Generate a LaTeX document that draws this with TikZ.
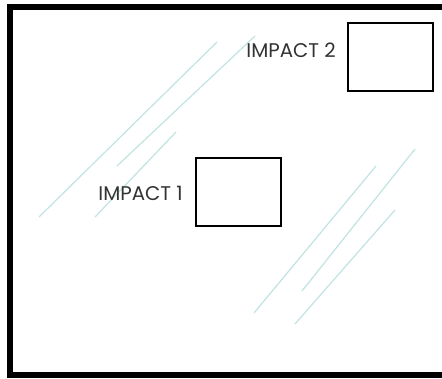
\documentclass[tikz,border=0pt]{standalone}
\usepackage{fontspec}
\setmainfont{Poppins}
\definecolor{streak}{HTML}{BFE4E1}
\definecolor{txt}{HTML}{333333}
\tikzset{
  impactbox/.style={draw=black, line width=1.6pt, fill=white},
  streakline/.style={draw=streak, line width=1.2pt},
  impactlabel/.style={text=txt, font=\fontsize{19.8}{20}\selectfont, inner sep=0pt, anchor=base east}
}
\begin{document}
\begin{tikzpicture}[x=1pt,y=-1pt]
\useasboundingbox (0,0) rectangle (442,379);
\clip (0,0) rectangle (442,379);
\fill[white] (0,0) rectangle (442,379);
% frame
\draw[line width=6pt] (10,7) rectangle (470,375.5);
% streaks
\draw[streakline] (39,217) -- (217,42);
\draw[streakline] (117,166) -- (255,36);
\draw[streakline] (95,217) -- (176,132);
\draw[streakline] (254,313) -- (376,166);
\draw[streakline] (302,291) -- (415,149);
\draw[streakline] (295,324) -- (395,210);
% boxes
\node[impactbox, minimum width=85pt, minimum height=68pt, inner sep=0pt] (box2) at (390.5,57) {};
\node[impactbox, minimum width=85pt, minimum height=68pt, inner sep=0pt] (box1) at (238.5,192) {};
% labels
\node[impactlabel] (lab2) at (336,58) {IMPACT 2};
\node[impactlabel] (lab1) at (183,201) {IMPACT 1};
\end{tikzpicture}
\end{document}
